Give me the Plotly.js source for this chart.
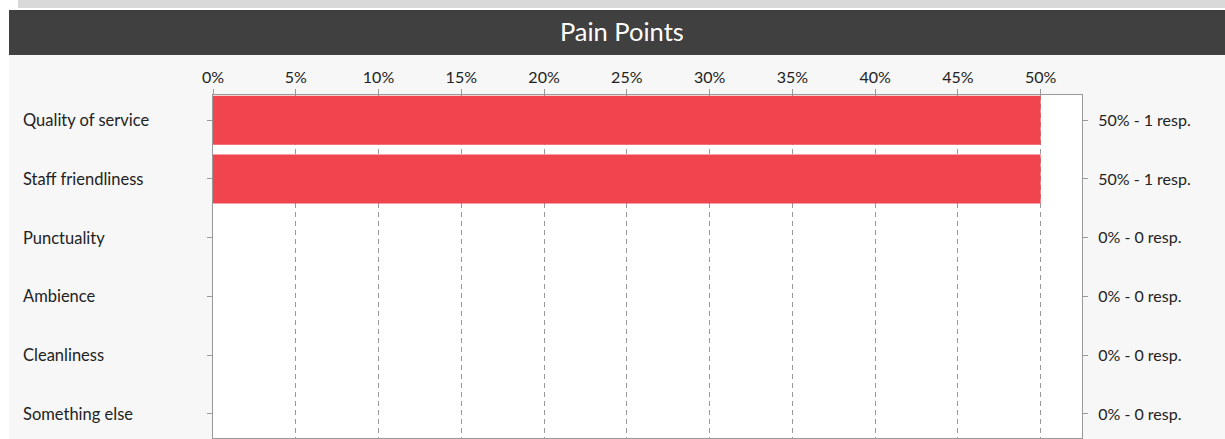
<!DOCTYPE html>
<html lang="en">

<head>
    <meta charset="UTF-8">
    <title>Pain Points</title>
    <script src="https://cdn.plot.ly/plotly-3.0.1.min.js"></script>
    <style>
        body {
            margin: 0;
            background: #ffffff;
            font-family: Lato, sans-serif;
        }

        .strip {
            position: absolute;
            left: 18px;
            top: 0;
            width: 1207px;
            height: 8px;
            background: #d9d9d9;
        }

        #chart {
            position: absolute;
            left: 9px;
            top: 10px;
            width: 1216px;
            height: 429px;
        }
    </style>
</head>

<body>
    <div class="strip"></div>
    <div id="chart"></div>

    <script>
        const categories = ['Quality of service', 'Staff friendliness', 'Punctuality', 'Ambience', 'Cleanliness', 'Something else'];
        const percents = [50, 50, 0, 0, 0, 0];
        const responses = [1, 1, 0, 0, 0, 0];
        const xTicks = [0, 5, 10, 15, 20, 25, 30, 35, 40, 45, 50];

        const xTickText = xTicks.map(v => v + '%');
        const rightLabels = percents.map((p, i) => p + '% - ' + responses[i] + ' resp.');

        const barTrace = {
            type: 'bar',
            orientation: 'h',
            x: percents,
            y: categories,
            marker: {color: '#f0444e'},
            hoverinfo: 'skip',
            showlegend: false
        };

        // invisible twin so the right axis gets drawn
        const rightTrace = {
            type: 'scatter',
            mode: 'markers',
            x: percents,
            y: categories,
            yaxis: 'y2',
            marker: {opacity: 0},
            hoverinfo: 'skip',
            showlegend: false
        };

        const leftLabels = categories.map(c => ({
            text: c,
            x: -0.2205,
            xref: 'paper',
            xanchor: 'left',
            y: c,
            yref: 'y',
            showarrow: false,
            font: {size: 16.5, color: '#222'}
        }));

        const yRange = [5.41, -0.43];

        const layout = {
            title: {
                text: 'Pain Points',
                font: {size: 25.5, color: '#ffffff', family: 'Lato, sans-serif'},
                x: 0.504,
                xref: 'container',
                y: 0.949,
                yref: 'container',
                yanchor: 'middle'
            },
            font: {family: 'Lato, sans-serif', color: '#222'},
            paper_bgcolor: '#f7f7f7',
            plot_bgcolor: '#ffffff',
            margin: {l: 204, r: 143, t: 85, b: 1},
            bargap: 0.165,
            xaxis: {
                side: 'top',
                range: [0, 52.5],
                tickmode: 'array',
                tickvals: xTicks,
                ticktext: xTickText,
                ticks: 'outside',
                ticklen: 5,
                tickcolor: '#999',
                tickfont: {size: 16},
                showgrid: true,
                gridcolor: '#999',
                griddash: '5px,4px',
                zeroline: false,
                showline: true,
                linecolor: '#999',
                mirror: true,
                fixedrange: true
            },
            yaxis: {
                type: 'category',
                range: yRange,
                autorange: false,
                showticklabels: false,
                ticks: 'outside',
                ticklen: 5,
                tickcolor: '#999',
                showgrid: false,
                showline: true,
                linecolor: '#999',
                mirror: true,
                fixedrange: true
            },
            yaxis2: {
                type: 'category',
                overlaying: 'y',
                side: 'right',
                range: yRange,
                autorange: false,
                tickmode: 'array',
                tickvals: categories,
                ticktext: rightLabels,
                ticks: 'outside',
                ticklen: 5,
                tickcolor: '#999',
                tickfont: {size: 16},
                ticklabelstandoff: 7,
                showgrid: false,
                zeroline: false,
                fixedrange: true
            },
            shapes: [{
                type: 'rect',
                xref: 'paper',
                yref: 'paper',
                x0: -0.3,
                x1: 1.3,
                y0: 1 + 40 / 343,
                y1: 1.4,
                line: {width: 0},
                fillcolor: '#404040',
                layer: 'below'
            }],
            annotations: leftLabels
        };

        Plotly.newPlot('chart', [barTrace, rightTrace], layout, {displayModeBar: false, staticPlot: true});
    </script>
</body>

</html>
